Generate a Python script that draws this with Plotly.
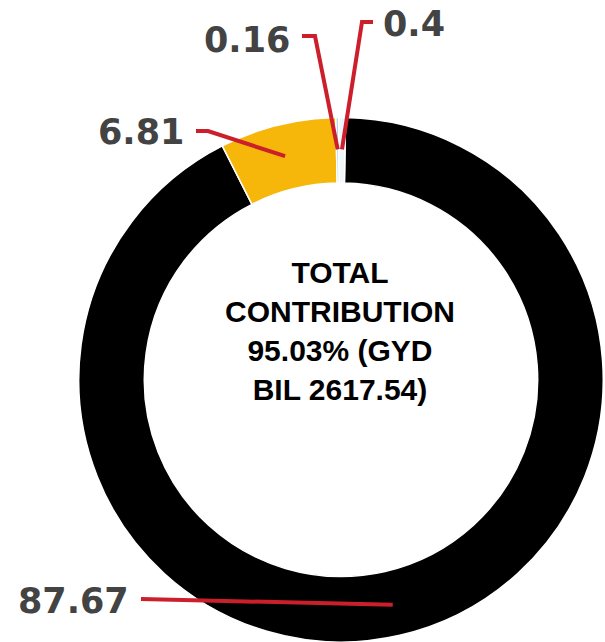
import math
import plotly.graph_objects as go

# ---- data ----
labels = ["Slice A", "Slice B", "Slice C", "Slice D"]
values = [87.67, 6.81, 0.16, 0.4]
value_text = ["87.67", "6.81", "0.16", "0.4"]
colors = ["#000000", "#f6b60a", "#a9d6e5", "#eef7fa"]
center_lines = ["TOTAL", "CONTRIBUTION", "95.03% (GYD", "BIL 2617.54)"]

W, H = 605, 642
CX, CY, R = 341, 380, 262.5   # pie centre / radius in px
HOLE = 0.75
ROT = 1.0
RED = "#cc1f2b"

dom_x = [(CX - R) / W, (CX + R) / W]
dom_y = [(H - CY - R) / H, (H - CY + R) / H]
dom_y[0] = max(dom_y[0], 0)

fig = go.Figure(go.Pie(
    labels=labels, values=values, hole=HOLE, sort=False, direction="clockwise",
    rotation=ROT, textinfo="none", hoverinfo="label+value",
    marker=dict(colors=colors, line=dict(color="white", width=1.5)),
    domain=dict(x=dom_x, y=dom_y), showlegend=False,
))

def px2paper(x, y):
    return x / W, 1 - y / H

# mid angle of each slice, computed from data
total = sum(values)
mids = []
acc = ROT
for v in values:
    span = v / total * 360
    mids.append(acc + span / 2)
    acc += span

r_mid = R * (1 + HOLE) / 2 + 1
tips = []
for a in mids:
    t = math.radians(a)
    tips.append((CX + r_mid * math.sin(t), CY - r_mid * math.cos(t)))

# label layout: (text anchor x, y, xanchor, leader points before tip)
label_layout = [
    (131, 601, "right", [(141, 599)]),
    (186, 132, "right", [(196, 131), (208, 131)]),
    (292, 40, "right", [(302, 36), (315, 36)]),
    (381, 24, "left", [(373, 22), (362, 22)]),
]

shapes = []
annotations = []
for (tx, ty, xa, pts), tip, txt in zip(label_layout, tips, value_text):
    allp = pts + [tip]
    path = "M " + " L ".join(f"{px2paper(x, y)[0]:.5f},{px2paper(x, y)[1]:.5f}" for x, y in allp)
    shapes.append(dict(type="path", xref="paper", yref="paper", path=path,
                       line=dict(color=RED, width=4)))
    ax, ay = px2paper(tx, ty)
    annotations.append(dict(x=ax, y=ay, xref="paper", yref="paper", xanchor=xa,
                            yanchor="middle", showarrow=False, text=txt,
                            font=dict(family="DejaVu Sans", size=35, color="#434343", weight="bold")))

cx_p, cy_p = px2paper(CX - 1, 331)
annotations.append(dict(x=cx_p, y=cy_p, xref="paper", yref="paper", xanchor="center",
                        yanchor="middle", showarrow=False,
                        text="<br>".join(f"<b>{s}</b>" for s in center_lines),
                        font=dict(family="Liberation Sans, Arial", size=30, color="#000000")))

fig.update_layout(width=W, height=H, autosize=False,
                  margin=dict(l=0, r=0, t=0, b=0),
                  paper_bgcolor="white", plot_bgcolor="white",
                  shapes=shapes, annotations=annotations)

fig.write_html("out.html", config={"displayModeBar": False},
               post_script="document.body.style.margin='0';document.body.style.overflow='hidden';")
